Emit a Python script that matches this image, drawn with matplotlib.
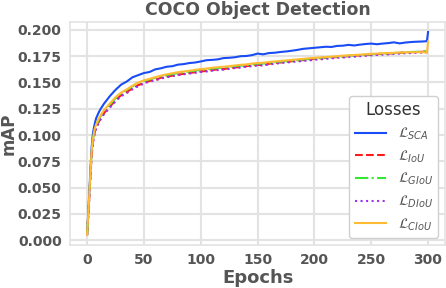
import matplotlib
matplotlib.use("Agg")
import matplotlib.pyplot as plt

epochs = [0, 1, 2, 3, 4, 5, 6, 7, 8, 10, 12, 15, 20, 25, 30, 35, 40, 45, 50,
          55, 60, 65, 70, 75, 80, 85, 90, 95, 100, 105, 110, 115, 120, 125, 130,
          135, 140, 145, 150, 155, 160, 165, 170, 175, 180, 185, 190, 195, 200,
          205, 210, 215, 220, 225, 230, 235, 240, 245, 250, 255, 260, 265, 270,
          275, 280, 285, 290, 295, 299, 300]

sca = [0.005, 0.025, 0.046, 0.068, 0.088, 0.100, 0.107, 0.112, 0.116, 0.121, 0.125, 0.130, 0.137, 0.143, 0.148,
       0.151, 0.155, 0.157, 0.159, 0.160, 0.1625, 0.1635, 0.165, 0.1655, 0.167, 0.1675, 0.1685, 0.169, 0.170,
       0.1712, 0.1715, 0.172, 0.1732, 0.1735, 0.174, 0.175, 0.1752, 0.176, 0.1775, 0.1768, 0.178, 0.1783, 0.179,
       0.1795, 0.1802, 0.181, 0.182, 0.1825, 0.183, 0.1835, 0.184, 0.1838, 0.1848, 0.185, 0.1858, 0.1852, 0.186,
       0.1866, 0.187, 0.1864, 0.187, 0.1875, 0.1882, 0.1872, 0.188, 0.1885, 0.1888, 0.189, 0.1893, 0.198]

iou = [0.005, 0.023, 0.042, 0.063, 0.081, 0.092, 0.099, 0.104, 0.107, 0.112, 0.116, 0.121, 0.127, 0.133, 0.138,
       0.141, 0.1445, 0.1475, 0.1495, 0.1515, 0.1525, 0.1545, 0.1555, 0.1565, 0.1575, 0.1582, 0.159, 0.1598, 0.1605,
       0.161, 0.1618, 0.1625, 0.1628, 0.1635, 0.1642, 0.1648, 0.1655, 0.1662, 0.1668, 0.1665, 0.1678, 0.1685, 0.169,
       0.1695, 0.1702, 0.1708, 0.1712, 0.1718, 0.1725, 0.1728, 0.1735, 0.1738, 0.1742, 0.1745, 0.175, 0.1755, 0.1758,
       0.176, 0.1765, 0.177, 0.1772, 0.1775, 0.1778, 0.1782, 0.1785, 0.1788, 0.179, 0.1792, 0.1795, 0.1800]

giou = [0.005, 0.024, 0.043, 0.064, 0.083, 0.094, 0.101, 0.106, 0.109, 0.114, 0.118, 0.123, 0.129, 0.135, 0.140,
        0.143, 0.1465, 0.1495, 0.1515, 0.153, 0.1545, 0.156, 0.157, 0.158, 0.159, 0.1598, 0.1605, 0.1612, 0.162,
        0.1625, 0.1632, 0.1638, 0.1642, 0.1648, 0.1655, 0.166, 0.1665, 0.1672, 0.1678, 0.168, 0.1688, 0.1692, 0.1698,
        0.1702, 0.1708, 0.1712, 0.1718, 0.1722, 0.1728, 0.1732, 0.1738, 0.1742, 0.1746, 0.175, 0.1755, 0.1758, 0.176,
        0.1765, 0.1768, 0.1772, 0.1775, 0.1778, 0.178, 0.1785, 0.1788, 0.179, 0.1792, 0.1795, 0.1797, 0.1803]

diou = [0.005, 0.023, 0.041, 0.062, 0.080, 0.091, 0.098, 0.103, 0.106, 0.111, 0.115, 0.120, 0.126, 0.132, 0.137,
        0.140, 0.1435, 0.1465, 0.149, 0.151, 0.152, 0.1538, 0.155, 0.156, 0.157, 0.1578, 0.1585, 0.1592, 0.160,
        0.1605, 0.1612, 0.1618, 0.1622, 0.163, 0.1638, 0.1642, 0.165, 0.1655, 0.1662, 0.1662, 0.1672, 0.1678, 0.1685,
        0.169, 0.1695, 0.17, 0.1705, 0.171, 0.1716, 0.172, 0.1725, 0.173, 0.1735, 0.1738, 0.1742, 0.1746, 0.175,
        0.1755, 0.1758, 0.1762, 0.1765, 0.1768, 0.1772, 0.1775, 0.1778, 0.178, 0.1782, 0.1785, 0.1787, 0.1797]

ciou = [0.005, 0.024, 0.044, 0.065, 0.084, 0.095, 0.102, 0.107, 0.110, 0.115, 0.119, 0.124, 0.130, 0.136, 0.1405,
        0.1435, 0.147, 0.150, 0.152, 0.1535, 0.155, 0.1565, 0.1578, 0.1588, 0.1598, 0.1605, 0.1612, 0.162, 0.1628,
        0.1632, 0.164, 0.1645, 0.165, 0.1655, 0.1662, 0.1668, 0.1672, 0.168, 0.1685, 0.1688, 0.1695, 0.17, 0.1705,
        0.171, 0.1715, 0.172, 0.1725, 0.173, 0.1735, 0.1738, 0.1742, 0.1746, 0.175, 0.1755, 0.1758, 0.1762, 0.1765,
        0.1768, 0.1772, 0.1775, 0.1778, 0.178, 0.1782, 0.1785, 0.1787, 0.1788, 0.1788, 0.1788, 0.1785, 0.1890]

series = [
    (r'$\mathcal{L}_{SCA}$', sca, '#1a4cf5', '-'),
    (r'$\mathcal{L}_{IoU}$', iou, '#ff1a1a', '--'),
    (r'$\mathcal{L}_{GIoU}$', giou, '#33e833', '-.'),
    (r'$\mathcal{L}_{DIoU}$', diou, '#9933ee', ':'),
    (r'$\mathcal{L}_{CIoU}$', ciou, '#ffbb33', '-'),
]

gray = '#555555'
plt.rcParams['font.family'] = ['DejaVu Sans']
plt.rcParams['mathtext.fontset'] = 'dejavusans'

fig = plt.figure(figsize=(4.46, 2.88), dpi=100)
ax = fig.add_axes([0.157, 0.149, 0.841, 0.775])

for label, vals, color, ls in series:
    ax.plot(epochs, vals, color=color, linestyle=ls, linewidth=1.5, label=label)

ax.set_xticks([0, 50, 100, 150, 200, 250, 300])
ax.set_yticks([0.0, 0.025, 0.05, 0.075, 0.1, 0.125, 0.15, 0.175, 0.2])
ax.set_yticklabels(['0.000', '0.025', '0.050', '0.075', '0.100', '0.125', '0.150', '0.175', '0.200'])
ax.grid(True, color='#e3e3e3', linewidth=1.5)
ax.set_axisbelow(True)
for s in ax.spines.values():
    s.set_color('#e3e3e3')
    s.set_linewidth(1.2)
ax.tick_params(length=0, pad=6, labelcolor=gray, labelsize=10)
for t in ax.get_xticklabels() + ax.get_yticklabels():
    t.set_fontweight('bold')

ax.set_title('COCO Object Detection', fontsize=12.5, fontweight='bold', color=gray, pad=5)
ax.set_xlabel('Epochs', fontsize=13, fontweight='bold', color=gray, labelpad=1)
ax.set_ylabel('mAP', fontsize=12, fontweight='bold', color=gray, labelpad=0)

leg = ax.legend(title='Losses', loc='lower right', fontsize=10, title_fontsize=12,
                frameon=True, fancybox=True, framealpha=1.0, edgecolor='#d0d0d0',
                handlelength=2.3, labelspacing=0.45)
for t in leg.get_texts():
    t.set_color(gray)
leg.get_title().set_color('#333333')

fig.savefig('out.png', dpi=100)
